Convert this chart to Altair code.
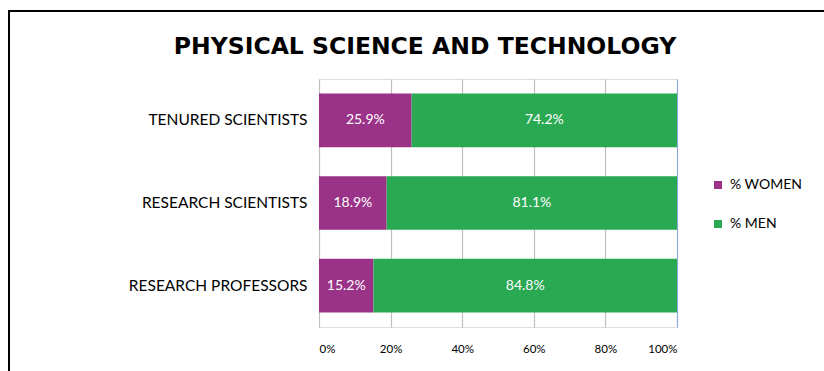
import altair as alt
import pandas as pd

roles = ["TENURED SCIENTISTS", "RESEARCH SCIENTISTS", "RESEARCH PROFESSORS"]
women_pct = [25.9, 18.9, 15.2]
men_pct = [74.2, 81.1, 84.8]
groups = ["% WOMEN", "% MEN"]
colors = ["#9a3288", "#2aa953"]
x_ticks = [0, 0.2, 0.4, 0.6, 0.8, 1.0]

FONT = "Lato"

rows = []
for role, w, m in zip(roles, women_pct, men_pct):
    rows.append({"role": role, "group": groups[0], "rank": 0, "pct": w})
    rows.append({"role": role, "group": groups[1], "rank": 1, "pct": m})
df = pd.DataFrame(rows)

base = alt.Chart(df).transform_stack(
    stack="pct",
    as_=["x0", "x1"],
    groupby=["role"],
    sort=[alt.SortField("rank", order="ascending")],
    offset="normalize",
).transform_calculate(
    mid="(datum.x0 + datum.x1) / 2",
    label="format(datum.pct, '.1f') + '%'",
)

y_enc = alt.Y(
    "role:N",
    sort=roles,
    scale=alt.Scale(paddingInner=0.35, paddingOuter=0.175),
    axis=alt.Axis(
        title=None, ticks=False, domain=False, labelFontSize=15.5,
        labelPadding=12, labelColor="black", labelFont=FONT,
    ),
)

bars = base.mark_bar().encode(
    x=alt.X(
        "x0:Q",
        scale=alt.Scale(domain=[0, 1], nice=False),
        axis=alt.Axis(
            title=None, values=x_ticks, format=".0%", ticks=False, domain=False,
            labelFontSize=11.5, labelPadding=16, labelColor="black", labelFont=FONT,
            gridColor={"condition": {"test": "datum.value >= 1", "value": "#8eaadb"},
                       "value": "#bfbfbf"},
            gridWidth=1.2,
        ),
    ),
    x2="x1:Q",
    y=y_enc,
    color=alt.Color(
        "group:N",
        scale=alt.Scale(domain=groups, range=colors),
        legend=alt.Legend(
            title=None, orient="none", legendX=392, legendY=99,
            symbolType="square", symbolSize=64, symbolStrokeWidth=0,
            labelFontSize=14, labelFont=FONT, labelColor="black",
            rowPadding=25, labelOffset=5,
        ),
    ),
    order=alt.Order("rank:Q"),
)

labels = base.mark_text(color="white", fontSize=14, font=FONT).encode(
    x="mid:Q",
    y=alt.Y("role:N", sort=roles),
    text="label:N",
)

frame_df = pd.DataFrame({"k": [0]})
frame_left = alt.Chart(frame_df).mark_rule(color="black", strokeWidth=2).encode(
    x=alt.value(-310), y=alt.value(-69), y2=alt.value(400)
)
frame_top = alt.Chart(frame_df).mark_rule(color="black", strokeWidth=2).encode(
    x=alt.value(-311), x2=alt.value(600), y=alt.value(-68)
)

chart = alt.layer(bars, labels, frame_left, frame_top).properties(
    width=358,
    height=248,
    padding={"left": 319, "top": 79, "right": 147, "bottom": 44},
    autosize=alt.AutoSizeParams(type="none"),
    title=alt.TitleParams(
        "PHYSICAL SCIENCE AND TECHNOLOGY",
        font="DejaVu Sans", fontSize=23.5, fontWeight="bold", color="black",
        anchor="middle", frame="group", dx=-73, offset=-49,
    ),
).configure_view(
    stroke="#8eaadb", strokeWidth=1.2
).configure(background="white")

chart.save("out.html", embed_options={"renderer": "svg", "actions": False})
